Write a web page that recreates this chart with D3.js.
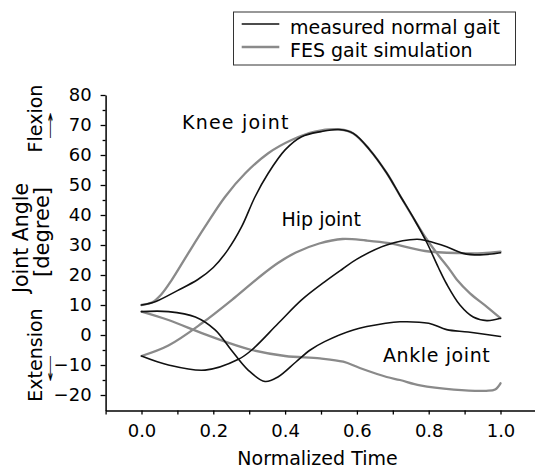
<!DOCTYPE html>
<html>
<head>
<meta charset="utf-8">
<script src="https://cdn.jsdelivr.net/npm/d3@7"></script>
<style>
  html, body { margin: 0; padding: 0; background: #fff; }
  svg { display: block; }
  text { font-family: "DejaVu Sans", sans-serif; fill: #000; }
</style>
</head>
<body>
<svg id="chart" width="535" height="469"></svg>
<script>
// ---- data: [normalized time, joint angle (deg)] ----
const kneeMeasured = [[0,10],[0.04,11.2],[0.1,14.8],[0.157,18.5],[0.2,22.5],[0.24,28.3],[0.279,36.1],[0.316,46],[0.353,53.9],[0.4,61.7],[0.446,66.1],[0.5,67.8],[0.55,68.5],[0.59,67.2],[0.636,61.7],[0.683,54],[0.72,46.5],[0.76,38.5],[0.794,31],[0.827,22.5],[0.85,17],[0.887,10],[0.924,6],[0.962,4.8],[1.0,5.6]];
const kneeFES = [[0,10],[0.03,10.9],[0.055,13.5],[0.084,18.3],[0.13,27.2],[0.177,36.1],[0.233,46.1],[0.289,53.9],[0.353,60.6],[0.418,65],[0.483,67.8],[0.553,68.5],[0.59,67.2],[0.636,61.7],[0.683,54],[0.72,46.5],[0.76,38.5],[0.794,32],[0.827,26.6],[0.859,21.7],[0.878,18.5],[0.915,13.9],[0.962,9.4],[1.0,5.6]];
const hipMeasured = [[0,-7],[0.075,-10],[0.177,-11.7],[0.27,-8.1],[0.307,-5],[0.381,3.9],[0.446,11.7],[0.511,17.8],[0.56,22],[0.6,25.3],[0.683,30],[0.767,31.9],[0.794,31.4],[0.85,29.4],[0.896,27.2],[0.943,26.7],[1.0,27.4]];
const hipFES = [[0,-7],[0.075,-3.5],[0.168,3.9],[0.26,12.5],[0.33,19.5],[0.38,24],[0.43,27.5],[0.495,30.5],[0.56,32],[0.626,31.5],[0.69,30.6],[0.79,28],[0.89,27.3],[0.95,27.3],[1.0,27.8]];
const ankleMeasured = [[0,7.8],[0.075,7.8],[0.15,6],[0.205,1.7],[0.25,-5],[0.297,-11.7],[0.344,-15.5],[0.38,-14],[0.43,-9],[0.47,-5],[0.51,-2.2],[0.59,1.7],[0.68,3.9],[0.72,4.4],[0.8,3.9],[0.85,1.8],[0.91,1.0],[1.0,-0.5]];
const ankleFES = [[0,7.8],[0.075,5],[0.168,0.6],[0.233,-2.2],[0.307,-5],[0.4,-7],[0.497,-7.8],[0.562,-8.9],[0.608,-11],[0.683,-14],[0.72,-15],[0.776,-16.8],[0.87,-18.2],[0.96,-18.6],[0.985,-18.2],[1.0,-16.1]];

const xTicks = [-0.1,0,0.1,0.2,0.3,0.4,0.5,0.6,0.7,0.8,0.9,1.0];
const xTickLabels = [0,0.2,0.4,0.6,0.8,1.0];
const yMajorTicks = [-20,-10,0,10,20,30,40,50,60,70,80];
const yMinorTicks = [-15,-5,5,15,25,35,45,55,65,75];
const jointLabels = ["Knee joint","Hip joint","Ankle joint"];
const legendLabels = ["measured normal gait","FES gait simulation"];

const svg = d3.select("#chart");
const x = d3.scaleLinear().domain([-0.1, 1.1]).range([105.6, 536.4]);
const y = d3.scaleLinear().domain([-25.2, 80]).range([410.6, 95]);

const MEAS = "#111", FES = "#8a8a8a";

// axes
const fmtX = d3.format(".1f");
const xAxis = svg.append("g").attr("transform", `translate(0,${y(-25.2)})`)
  .call(d3.axisBottom(x).tickValues(xTicks).tickSizeInner(4).tickSizeOuter(0)
    .tickFormat(d => xTickLabels.some(v => Math.abs(v - d) < 1e-9) ? fmtX(d) : ""));
xAxis.select(".domain").attr("stroke", "#000").attr("stroke-width", 1.5);
xAxis.selectAll(".tick line").attr("stroke", "#000").attr("stroke-width", 1.3);
xAxis.selectAll(".tick text").attr("font-size", 18).attr("font-family", "DejaVu Sans").attr("dy", "1.1em");

const yAxis = svg.append("g").attr("transform", `translate(${x(-0.1)},0)`)
  .call(d3.axisLeft(y).tickValues(yMajorTicks).tickSizeInner(5).tickSizeOuter(0).tickPadding(9));
yAxis.select(".domain").attr("stroke", "#000").attr("stroke-width", 1.5);
yAxis.selectAll(".tick line").attr("stroke", "#000").attr("stroke-width", 1.3);
yAxis.selectAll(".tick text").attr("font-size", 18).attr("font-family", "DejaVu Sans");

const yMinor = svg.append("g").attr("transform", `translate(${x(-0.1)},0)`)
  .call(d3.axisLeft(y).tickValues(yMinorTicks).tickSize(3).tickFormat(""));
yMinor.select(".domain").remove();
yMinor.selectAll(".tick line").attr("stroke", "#000").attr("stroke-width", 1.3);

// lines
const line = d3.line().x(d => x(d[0])).y(d => y(d[1])).curve(d3.curveCatmullRom.alpha(0.5));
const series = [
  [kneeFES, FES], [hipFES, FES], [ankleFES, FES],
  [kneeMeasured, MEAS], [hipMeasured, MEAS], [ankleMeasured, MEAS]
];
series.forEach(([data, col]) => {
  svg.append("path").datum(data).attr("d", line).attr("fill", "none")
    .attr("stroke", col).attr("stroke-width", col === FES ? 2.3 : 1.6)
    .attr("stroke-linejoin", "round").attr("stroke-linecap", "round");
});

// joint labels
const jointPos = [[182, 128.5], [281.5, 225.5], [383, 361.5]];
const jointSpacing = [1.2, 0, 0.6];
jointLabels.forEach((t, i) => {
  svg.append("text").attr("x", jointPos[i][0]).attr("y", jointPos[i][1])
    .attr("font-size", 19).attr("letter-spacing", jointSpacing[i]).text(t);
});

// x axis title
svg.append("text").attr("x", 317.5).attr("y", 465).attr("text-anchor", "middle")
  .attr("font-size", 19).text("Normalized Time");

// y axis titles (rotated)
function vtext(str, bx, cy, size) {
  svg.append("text").attr("transform", `translate(${bx},${cy}) rotate(-90)`)
    .attr("text-anchor", "middle").attr("font-size", size).text(str);
}
vtext("Flexion", 42, 118.5, 19);
vtext("Joint Angle", 28, 238, 20.5);
vtext("[degree]", 49, 232, 21);
vtext("Extension", 42, 355, 19);
// arrows: narrow, tall glyphs
function arrow(ch, cx, by) {
  svg.append("text").attr("transform", `translate(${cx},${by}) scale(0.55,1.9)`)
    .attr("text-anchor", "middle").attr("font-size", 18).text(ch);
}
arrow("↑", 50.5, 138);
arrow("↓", 50.5, 381);

// legend
const lg = svg.append("g");
lg.append("rect").attr("x", 233.5).attr("y", 12).attr("width", 282).attr("height", 53)
  .attr("fill", "#fff").attr("stroke", "#333").attr("stroke-width", 1);
const legendCols = [MEAS, FES];
const legendY = [24, 47];
legendLabels.forEach((t, i) => {
  lg.append("line").attr("x1", 241.7).attr("x2", 279.3).attr("y1", legendY[i]).attr("y2", legendY[i])
    .attr("stroke", legendCols[i]).attr("stroke-width", i === 1 ? 2.3 : 1.6);
  lg.append("text").attr("x", 290).attr("y", legendY[i] + 9.5).attr("font-size", 19).text(t);
});
</script>
</body>
</html>
